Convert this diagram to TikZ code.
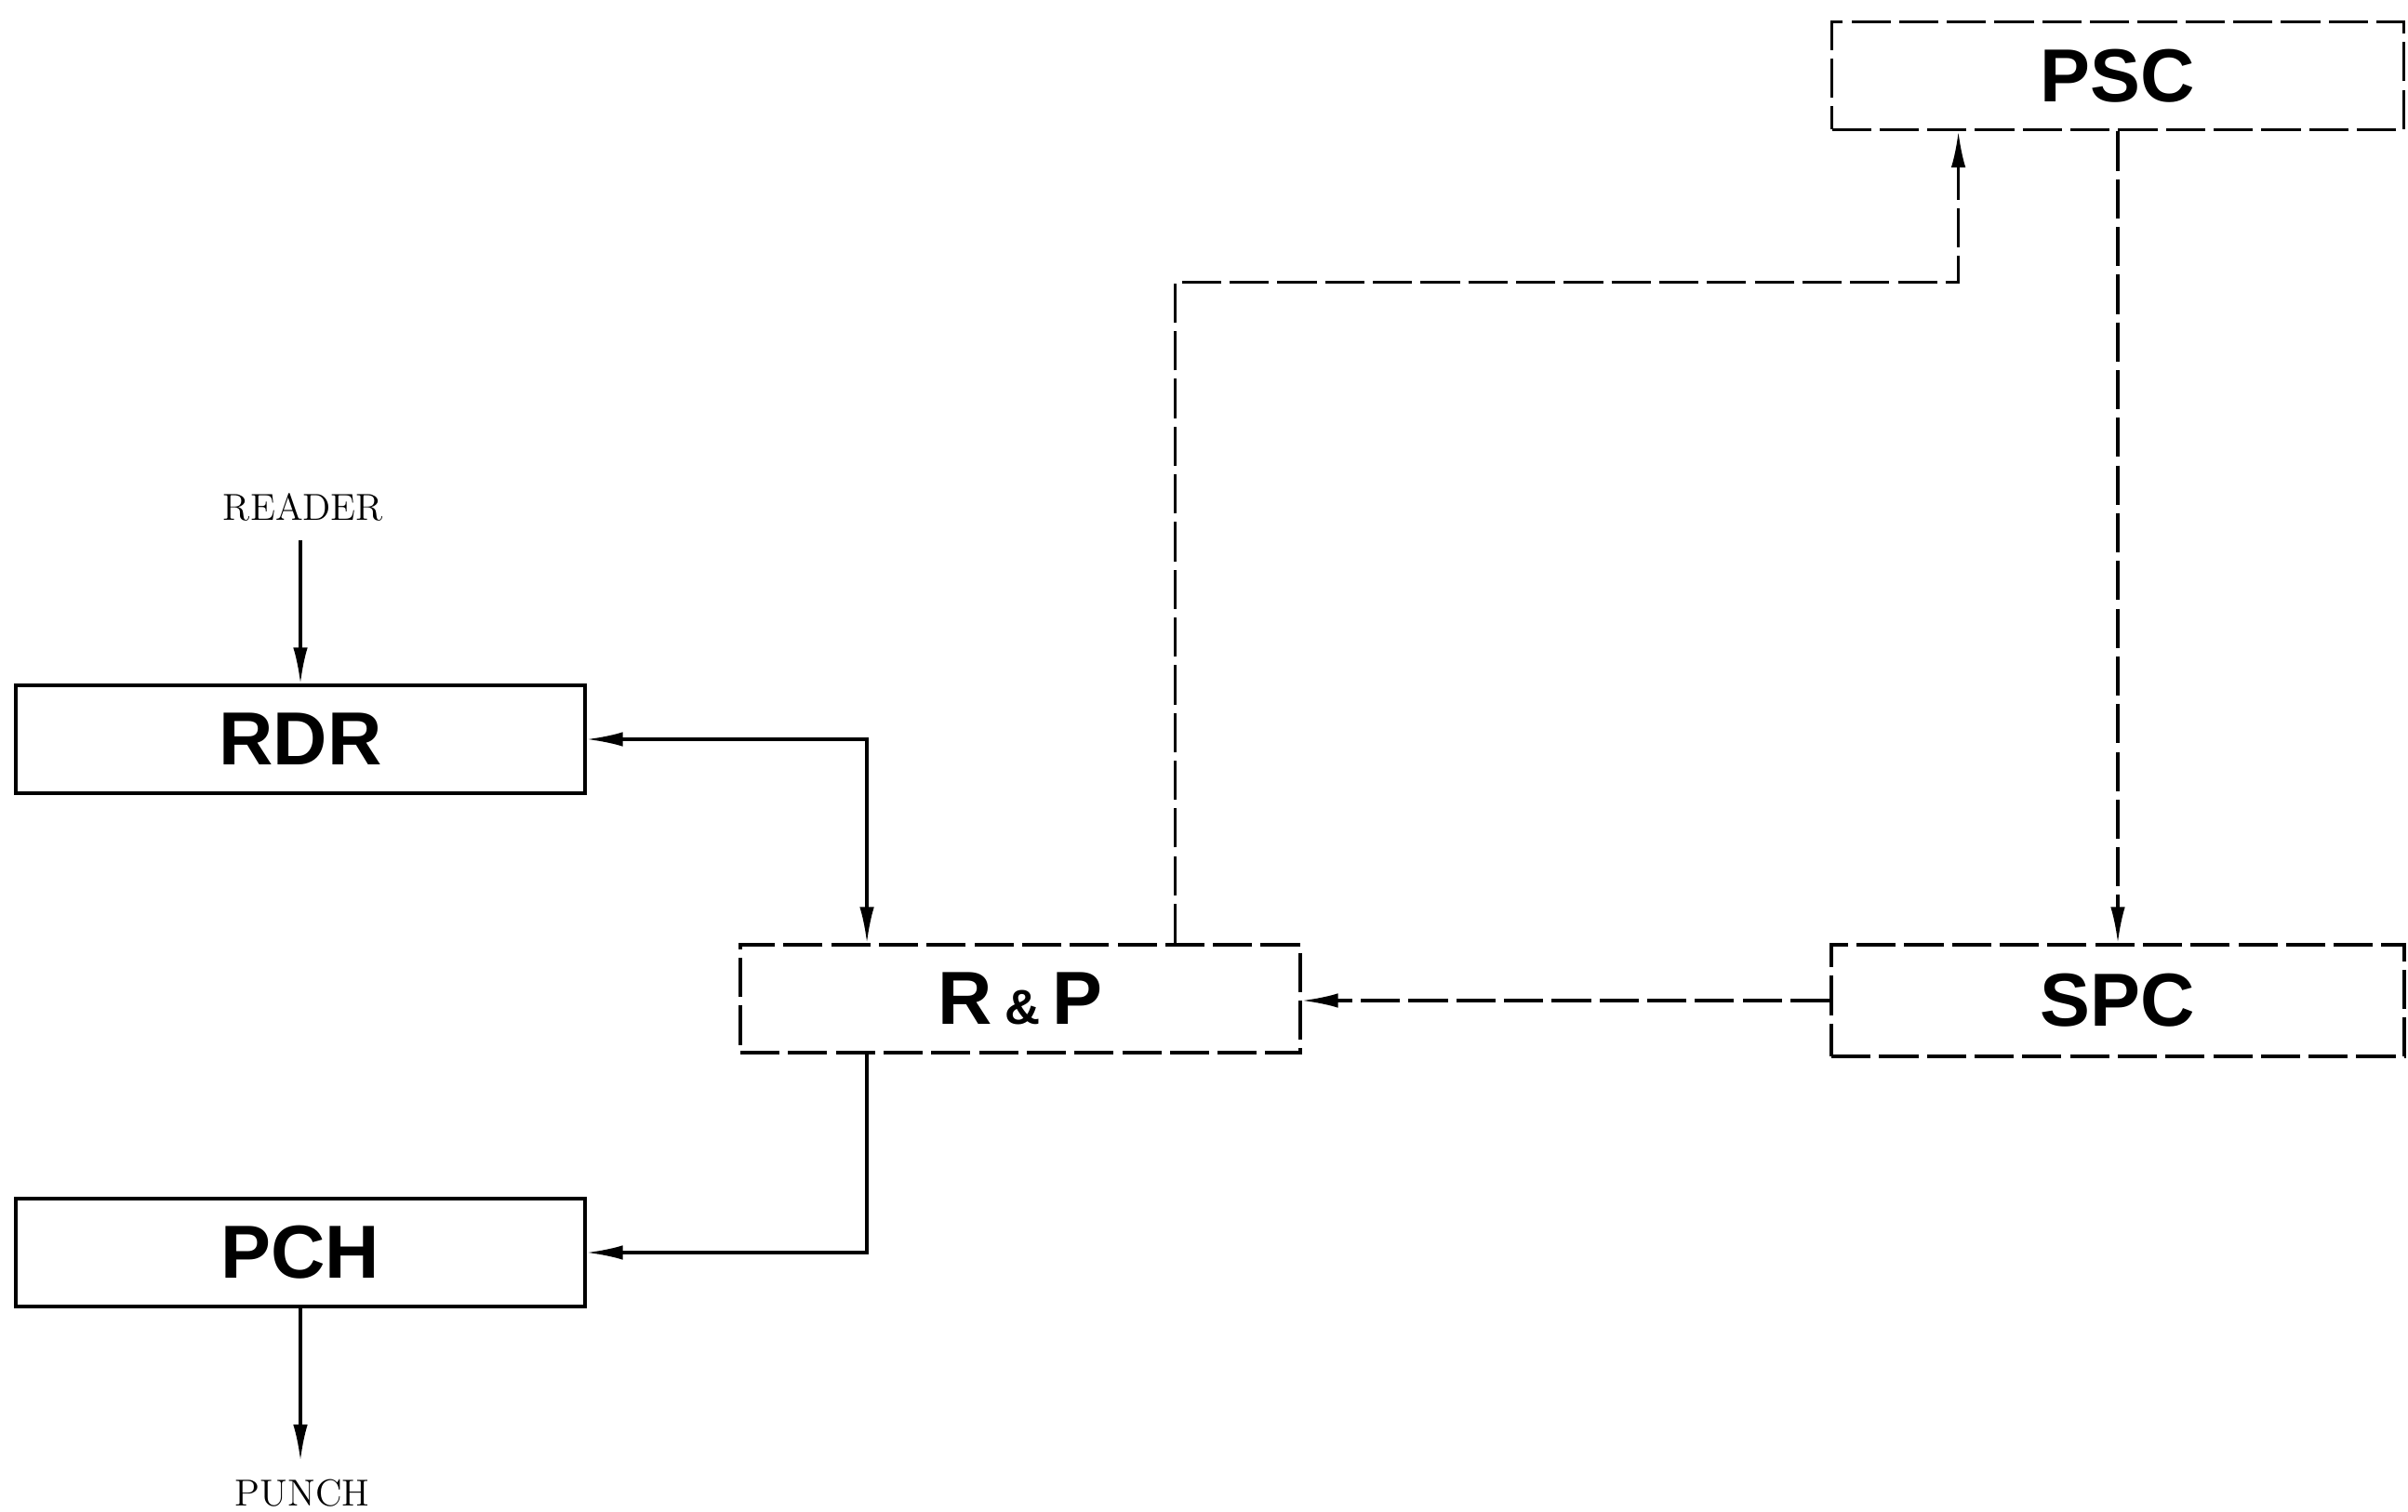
\documentclass[tikz,border=0pt]{standalone}
\usepackage{fontspec}
\newfontfamily\boxfont{Liberation Sans}
\usetikzlibrary{arrows.meta}
\tikzset{
  unit/.style = {draw, line width=1.1pt, minimum width=6.12cm, minimum height=1.16cm,
                 inner sep=0pt, font=\boxfont\bfseries\fontsize{23}{23}\selectfont},
  dashbox/.style = {unit, dash pattern=on 12pt off 2.6pt},
  wire/.style = {line width=0.9pt, -{Latex[length=11pt,width=4.4pt]}},
  dwire/.style = {wire, dash pattern=on 12pt off 2.6pt},
  tag/.style = {font=\fontsize{11.5}{11.5}\selectfont, inner sep=0pt}
}
\begin{document}
\begin{tikzpicture}[line cap=butt, line join=miter]
  \useasboundingbox (0,0) rectangle (25.89,-16.26);
  % units
  \node[unit] (rdr) at (3.23,-7.95) {RDR};
  \node[unit] (pch) at (3.23,-13.47) {PCH};
  \node[dashbox, minimum width=6.02cm] (rp) at (10.97,-10.74)
    {R\,{\fontsize{15}{15}\selectfont\&}\,P};
  \node[dashbox, minimum width=6.15cm] (psc) at (22.77,-0.815) {PSC};
  \node[dashbox, minimum width=6.16cm, minimum height=1.2cm] (spc) at (22.77,-10.76) {SPC};
  % outside labels
  \node[tag] (reader) at (3.26,-5.45) {READER};
  \node[tag] (punch) at (3.25,-16.06) {PUNCH};

  % solid lines
  \draw[wire] (reader.south -| rdr.north) ++(0,-0.2) -- (rdr.north);
  \draw[wire] (pch.south) -- ([yshift=0.2cm]punch.north -| pch.south);
  \draw[wire, {Latex[length=11pt,width=4.4pt]}-{Latex[length=11pt,width=4.4pt]}]
    (rdr.east) -| ([xshift=1.38cm]rp.north west);
  \draw[wire] ([xshift=1.38cm]rp.south west) |- (pch.east);

  % dashed lines
  \draw[dwire] ([xshift=4.69cm]rp.north west)
    |- ([xshift=1.38cm,yshift=-1.62cm]psc.south west)
    -- ([xshift=1.38cm]psc.south west);
  \draw[dwire] (psc.south) -- (spc.north);
  \draw[dwire] (spc.west) -- (spc.west -| rp.east);
\end{tikzpicture}
\end{document}
